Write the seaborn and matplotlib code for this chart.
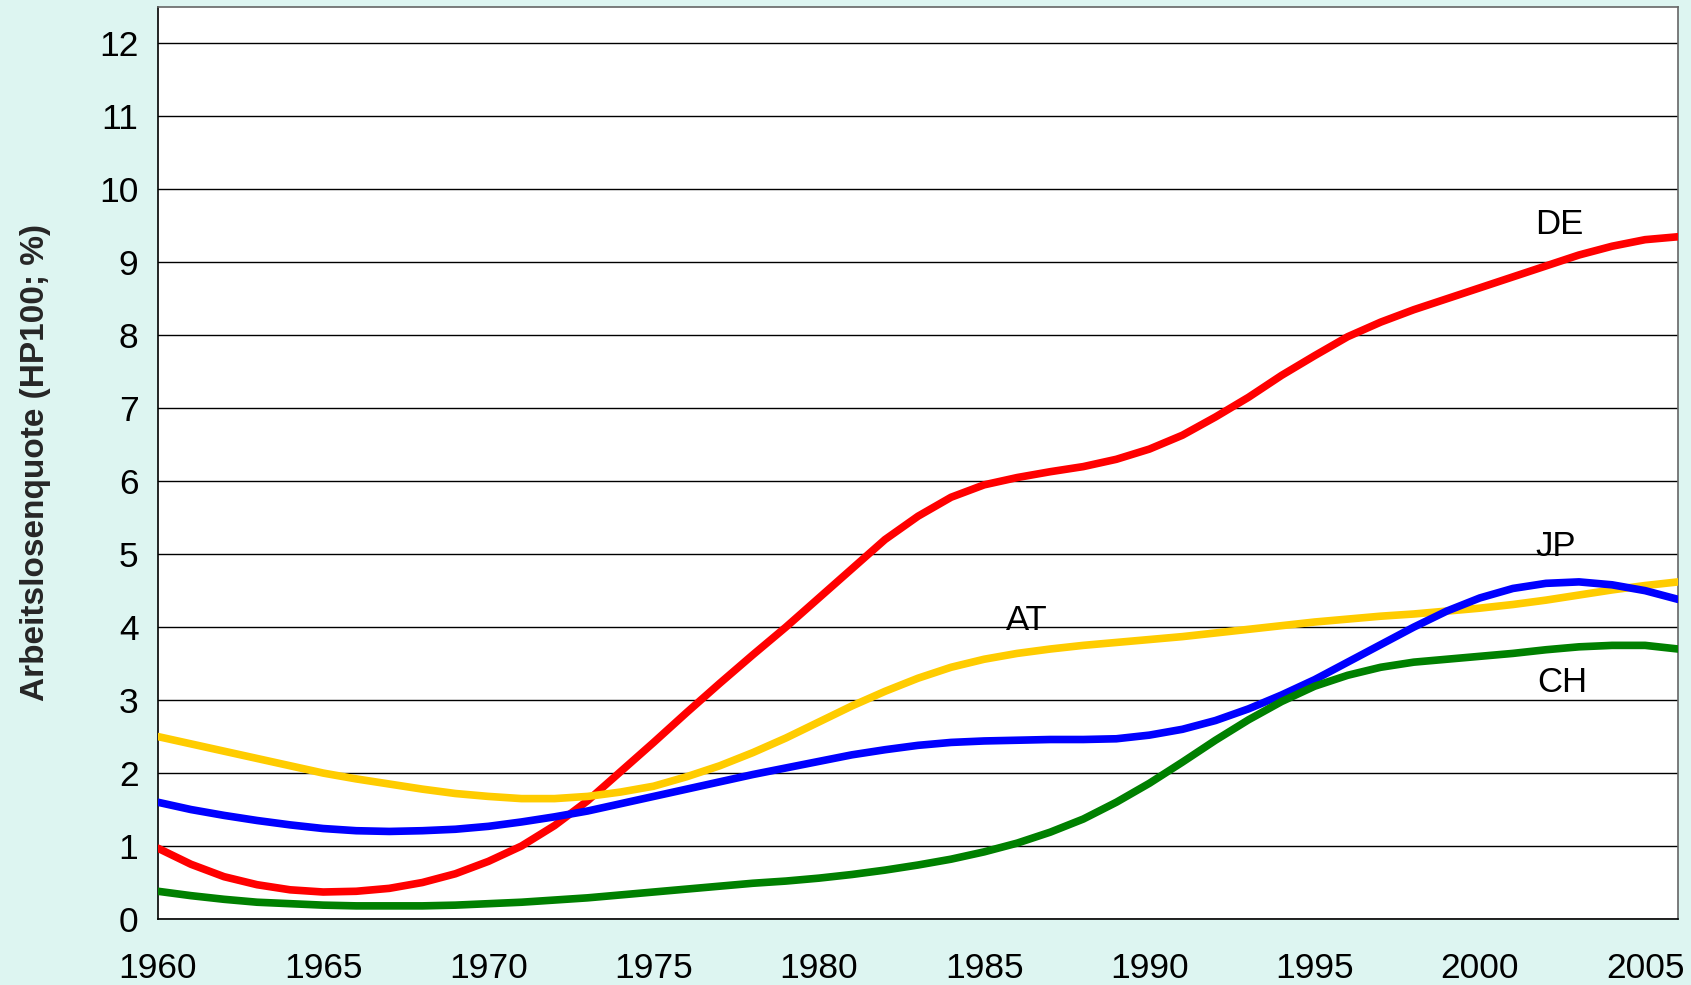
import matplotlib
matplotlib.use("Agg")
import matplotlib.pyplot as plt
import seaborn as sns
import numpy as np
import pandas as pd
from matplotlib.ticker import MultipleLocator

years = list(range(1960, 2007))

de = [0.97, 0.75, 0.58, 0.47, 0.40, 0.37, 0.38, 0.42, 0.50, 0.62,
      0.79, 1.00, 1.28, 1.62, 2.02, 2.42, 2.83, 3.23, 3.62, 4.00,
      4.40, 4.80, 5.20, 5.52, 5.78, 5.95, 6.05, 6.13, 6.20, 6.30,
      6.44, 6.63, 6.88, 7.15, 7.45, 7.72, 7.98, 8.18, 8.35, 8.50,
      8.65, 8.80, 8.95, 9.10, 9.22, 9.31, 9.35]
at = [2.50, 2.40, 2.30, 2.20, 2.10, 2.00, 1.92, 1.85, 1.78, 1.72,
      1.68, 1.65, 1.65, 1.68, 1.74, 1.82, 1.95, 2.10, 2.28, 2.48,
      2.70, 2.92, 3.12, 3.30, 3.45, 3.56, 3.64, 3.70, 3.75, 3.79,
      3.83, 3.87, 3.92, 3.97, 4.02, 4.07, 4.11, 4.15, 4.18, 4.22,
      4.26, 4.31, 4.37, 4.44, 4.51, 4.57, 4.62]
jp = [1.60, 1.50, 1.42, 1.35, 1.29, 1.24, 1.21, 1.20, 1.21, 1.23,
      1.27, 1.33, 1.40, 1.48, 1.58, 1.68, 1.78, 1.88, 1.98, 2.07,
      2.16, 2.25, 2.32, 2.38, 2.42, 2.44, 2.45, 2.46, 2.46, 2.47,
      2.52, 2.60, 2.72, 2.88, 3.07, 3.28, 3.52, 3.76, 4.00, 4.22,
      4.40, 4.53, 4.60, 4.62, 4.58, 4.50, 4.38]
ch = [0.38, 0.32, 0.27, 0.23, 0.21, 0.19, 0.18, 0.18, 0.18, 0.19,
      0.21, 0.23, 0.26, 0.29, 0.33, 0.37, 0.41, 0.45, 0.49, 0.52,
      0.56, 0.61, 0.67, 0.74, 0.82, 0.92, 1.04, 1.19, 1.37, 1.60,
      1.86, 2.15, 2.45, 2.73, 2.98, 3.19, 3.34, 3.45, 3.52, 3.56,
      3.60, 3.64, 3.69, 3.73, 3.75, 3.75, 3.70]

countries = ["DE", "AT", "JP", "CH"]
colors = {"DE": "#FF0000", "AT": "#FFCC00", "JP": "#0000FF", "CH": "#008000"}
label_pos = {"DE": (2002.4, 9.52), "JP": (2002.3, 5.1),
             "AT": (1986.3, 4.09), "CH": (2002.5, 3.24)}

df = pd.DataFrame({"DE": de, "AT": at, "JP": jp, "CH": ch}, index=years)
long = df.reset_index(names="Jahr").melt(id_vars="Jahr", var_name="Land", value_name="Quote")

sns.set_style("white")
plt.rcParams["font.family"] = ["Liberation Sans", "DejaVu Sans"]

bg = "#DDF5F1"
fig = plt.figure(figsize=(16.91, 9.85), dpi=100, facecolor=bg)
ax = fig.add_axes([0.0934, 0.067, 0.899, 0.926])
ax.set_facecolor("white")

sns.lineplot(data=long, x="Jahr", y="Quote", hue="Land", palette=colors,
             hue_order=countries, linewidth=5.5, legend=False, ax=ax, zorder=3)

for c in countries:
    x, y = label_pos[c]
    ax.text(x, y, c, fontsize=25, ha="center", va="center", color="black", zorder=4)

ax.set_xlim(1960, 2006)
ax.set_ylim(0, 12.5)
ax.xaxis.set_major_locator(MultipleLocator(5))
ax.xaxis.set_minor_locator(MultipleLocator(1))
ax.set_yticks(range(0, 13))
ax.yaxis.grid(True, color="black", linewidth=1)
ax.set_axisbelow(True)

ax.tick_params(axis="both", which="both", direction="out", color="#555555",
               length=8, width=1.2, labelsize=25.5, labelcolor="black")
ax.tick_params(axis="y", pad=6)
ax.tick_params(axis="x", pad=16)

for s in ["left", "bottom"]:
    ax.spines[s].set_color("black")
    ax.spines[s].set_linewidth(1.2)
for s in ["top", "right"]:
    ax.spines[s].set_color("#666666")
    ax.spines[s].set_linewidth(1.2)

ax.set_xlabel("")
ax.set_ylabel("Arbeitslosenquote (HP100; %)", fontsize=24, fontweight="bold", labelpad=35)

fig.savefig("out.png", dpi=100, facecolor=bg)
